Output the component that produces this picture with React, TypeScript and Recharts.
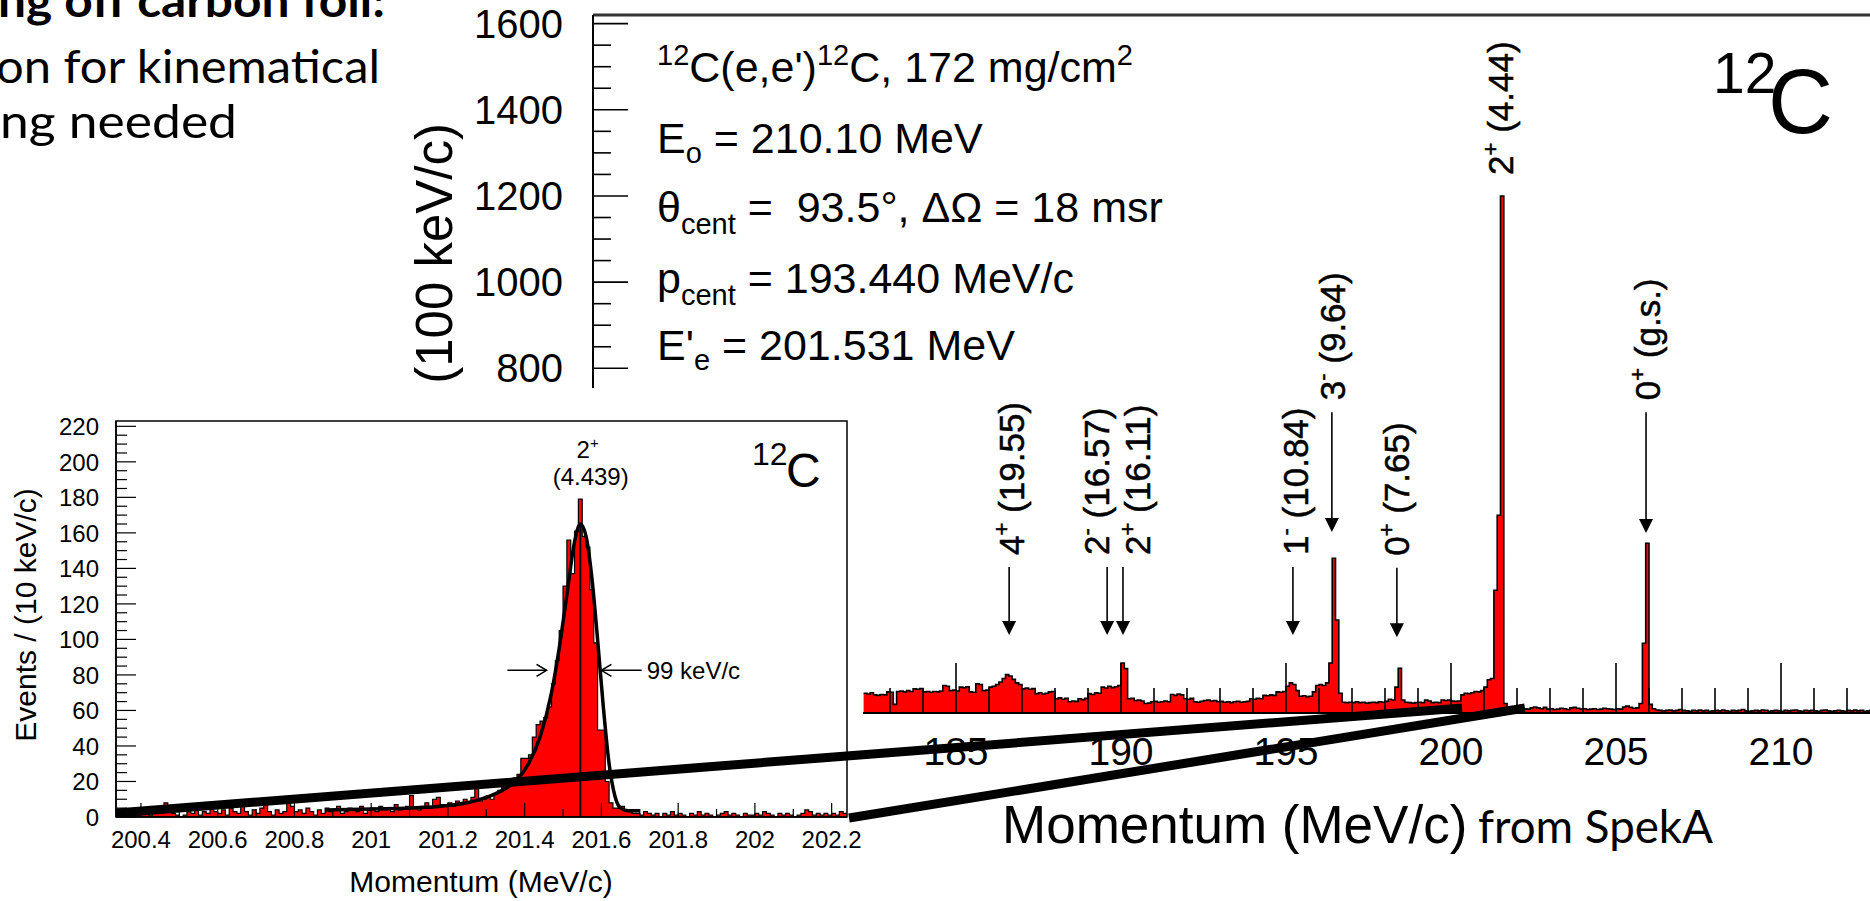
import React from "react";
import {
  ComposedChart,
  Area,
  Line,
  XAxis,
  YAxis,
  ReferenceLine,
  ReferenceArea,
  ReferenceDot,
} from "recharts";

const FONT = "'Liberation Sans', Arial, sans-serif";
const SLIDE_FONT = "Lato, 'Open Sans', sans-serif";
const RED = "#ff0000";

// 12C(e,e') momentum spectrum, 100 keV/c bins from 182.2 MeV/c
const mainStart = 182.2;
const mainBinWidth = 0.1;
const mainCounts = [
  46, 44, 47, 42, 41, 43, 42, 49, 48, 20,
  50, 51, 49, 52, 50, 56, 55, 57, 49, 50,
  48, 50, 49, 51, 64, 62, 52, 53, 51, 60,
  59, 61, 49, 48, 68, 66, 52, 53, 60, 62,
  66, 72, 80, 89, 86, 78, 70, 66, 56, 58,
  55, 57, 45, 47, 44, 46, 49, 50, 33, 35,
  32, 34, 26, 28, 27, 33, 31, 34, 45, 43,
  47, 46, 60, 58, 62, 59, 61, 64, 116, 103,
  33, 34, 29, 30, 28, 22, 23, 26, 27, 25,
  26, 28, 26, 43, 41, 44, 42, 33, 32, 34,
  26, 25, 27, 29, 30, 28, 29, 26, 27, 25,
  26, 24, 26, 27, 25, 26, 27, 33, 32, 34,
  33, 41, 40, 42, 41, 49, 48, 50, 62, 70,
  66, 52, 39, 40, 38, 39, 49, 64, 66, 64,
  70, 116, 359, 216, 46, 25, 24, 25, 24, 26,
  24, 25, 23, 24, 25, 24, 26, 25, 27, 32,
  30, 60, 104, 30, 25, 24, 23, 24, 25, 24,
  30, 28, 24, 25, 24, 30, 29, 30, 28, 27,
  28, 42, 46, 45, 47, 50, 49, 52, 60, 77,
  80, 285, 459, 1200, 22, 14, 10, 9, 11, 8,
  10, 9, 12, 14, 12, 10, 13, 9, 10, 8,
  9, 11, 10, 8, 12, 13, 11, 9, 10, 8,
  9, 10, 8, 9, 11, 10, 9, 8, 10, 9,
  14, 16, 13, 11, 12, 22, 162, 394, 20, 10,
  7, 6, 5, 6, 7, 5, 6, 8, 6, 5,
  4, 6, 5, 7, 5, 6, 4, 5, 6, 5,
  7, 5, 4, 6, 5, 6, 8, 5, 4, 5,
  6, 5, 7, 6, 4, 5, 6, 5, 4, 6,
  5, 6, 7, 5, 4, 6, 5, 6, 5, 4,
  6, 7, 5, 4, 5, 6, 5, 4, 6, 5,
  7, 5, 6, 4, 5, 6,
];

// zoom on the 2+ (4.439) line, 10 keV/c bins from 200.34 MeV/c
const insetStart = 200.34;
const insetBinWidth = 0.01;
const insetCounts = [
  3, 2, 4, 2, 3, 1, 2, 3, 1, 4, 2, 3, 8, 5, 2, 1,
  0, 1, 3, 2, 4, 1, 3, 2, 5, 3,
  2, 4, 1, 5, 3, 2, 6, 3, 1, 4,
  2, 5, 7, 3, 1, 4, 2, 3, 9, 6,
  3, 4, 2, 5, 3, 1, 4, 2, 5, 3,
  4, 6, 2, 3, 5, 4, 3, 6, 2, 4,
  5, 3, 6, 4, 5, 3, 7, 4, 5, 6,
  12, 5, 4, 6, 8, 5, 10, 11, 7, 6,
  8, 6, 9, 7, 10, 8, 11, 16, 9, 10,
  12, 10, 13, 15, 17, 18, 19, 22, 24, 33,
  33, 35, 45, 52, 54, 56, 62, 75, 88, 105,
  130, 156, 137, 161, 179, 158, 152, 128, 98, 49,
  49, 20, 8, 5, 5, 6, 4, 3, 2, 2,
  1, 3, 2, 1, 2, 0, 2, 1, 3, 1,
  2, 1, 0, 2, 1, 3, 1, 2, 1, 0,
  1, 2, 3, 1, 2, 1, 0, 2, 1, 1,
  2, 1, 3, 2, 1, 0, 2, 1, 2, 1,
  0, 1, 2, 4, 3, 1, 2, 1, 2, 1,
  2, 1, 3, 2,
];

// line-shape fit through the 2+ peak
const fitMomentum = [
  200.88, 201.0, 201.1, 201.2, 201.25, 201.3, 201.35, 201.38, 201.41, 201.44,
  201.47, 201.49, 201.51, 201.53, 201.545, 201.56, 201.575, 201.59, 201.605,
  201.62, 201.635, 201.65, 201.67, 201.7,
];
const fitCounts = [
  4, 4.5, 5, 6.5, 8, 11, 16, 21, 30, 45,
  70, 95, 125, 155, 165, 158, 135, 100, 62,
  30, 12, 5, 3.5, 3.5,
];

// excited states of 12C: label, parity, excitation energy, momentum and arrow span in counts
const levels = [
  { p: 186.61, j: "4", par: "+", ex: " (19.55)", top: 339, tip: 181, dx: 3, arrow: true },
  { p: 189.58, j: "2", par: "-", ex: " (16.57)", top: 339, tip: 181, dx: -10, arrow: true },
  { p: 190.06, j: "2", par: "+", ex: " (16.11)", top: 339, tip: 181, dx: 15, arrow: true },
  { p: 195.21, j: "1", par: "-", ex: " (10.84)", top: 339, tip: 181, dx: 3, arrow: true },
  { p: 196.39, j: "3", par: "-", ex: " (9.64)", top: 698, tip: 420, dx: 1, arrow: true },
  { p: 198.36, j: "0", par: "+", ex: " (7.65)", top: 337, tip: 176, dx: 0, arrow: true },
  { p: 201.5, j: "2", par: "+", ex: " (4.44)", top: 1221, tip: 1221, dx: 0, arrow: false },
  { p: 205.91, j: "0", par: "+", ex: " (g.s.)", top: 698, tip: 418, dx: 2, arrow: true },
];

const peakCentre = 201.545;
const peakFitMax = 165;
const fwhmCounts = 82.6;
const fwhmLeftArrow = [201.355, 201.457];
const fwhmRightArrow = [201.705, 201.6];

// layout
const MAIN = { w: 1913, h: 901, top: 15, axisW: 593, axisH: 188, x: [174, 214], y: [0, 1620] };
const MAIN_PLOT_W = MAIN.w - MAIN.axisW;
const MAIN_BOTTOM = MAIN.h - MAIN.axisH;
const INSET = { top: 388, w: 863, h: 513, axisW: 116, axisH: 84, mTop: 33, mRight: 16, x: [200.335, 202.24], y: [0, 223] };
const INSET_BOTTOM = INSET.top + INSET.h - INSET.axisH;
const INSET_RIGHT = INSET.w - INSET.mRight;

const mainX = (p: number) => MAIN.axisW + ((p - MAIN.x[0]) / (MAIN.x[1] - MAIN.x[0])) * MAIN_PLOT_W;

function toSteps(start: number, width: number, counts: number[]) {
  const pts = counts.map((c, i) => ({ p: +(start + i * width).toFixed(3), c }));
  pts.push({ p: +(start + counts.length * width).toFixed(3), c: counts[counts.length - 1] });
  return pts;
}

const mainSteps = toSteps(mainStart, mainBinWidth, mainCounts);
const insetSteps = toSteps(insetStart, insetBinWidth, insetCounts);
const fitData = fitMomentum.map((p, i) => ({ p, v: fitCounts[i] }));

const mainXTicks = Array.from({ length: 39 }, (_, i) => 175 + i);
const mainYTicks = Array.from({ length: 33 }, (_, i) => i * 50);
const insetXTicks = Array.from({ length: 19 }, (_, i) => +(200.4 + i * 0.1).toFixed(1));
const insetYTicks = Array.from({ length: 45 }, (_, i) => i * 5);

function MainXTick({ x, y, payload }: any) {
  const v = payload.value;
  const major = v % 5 === 0;
  return (
    <g>
      <line x1={x} x2={x} y1={y} y2={y - (major ? 50 : 25)} stroke="#000" strokeWidth={1.6} />
      {major && (
        <text x={x} y={y + 52} textAnchor="middle" fontSize={39} fontFamily={FONT} fill="#000">
          {v}
        </text>
      )}
    </g>
  );
}

function MainYTick({ x, y, payload }: any) {
  const v = payload.value;
  const major = v % 200 === 0;
  return (
    <g>
      <line x1={x} x2={x + (major ? 35 : 18)} y1={y} y2={y} stroke="#000" strokeWidth={1.6} />
      {major && (
        <text x={x - 30} y={y + 14} textAnchor="end" fontSize={40} fontFamily={FONT} fill="#000">
          {v}
        </text>
      )}
    </g>
  );
}

function InsetXTick({ x, y, payload }: any) {
  const v = payload.value;
  const major = Math.round(v * 10) % 2 === 0;
  return (
    <g>
      <line x1={x} x2={x} y1={y} y2={y - (major ? 14 : 8)} stroke="#000" strokeWidth={1.2} />
      {major && (
        <text x={x} y={y + 31} textAnchor="middle" fontSize={24} fontFamily={FONT} fill="#000">
          {String(+v.toFixed(1))}
        </text>
      )}
    </g>
  );
}

function InsetYTick({ x, y, payload }: any) {
  const v = payload.value;
  const major = v % 20 === 0;
  return (
    <g>
      <line x1={x} x2={x + (major ? 20 : 11)} y1={y} y2={y} stroke="#000" strokeWidth={1.2} />
      {major && (
        <text x={x - 17} y={y + 9} textAnchor="end" fontSize={24} fontFamily={FONT} fill="#000">
          {v}
        </text>
      )}
    </g>
  );
}

function levelShape(lv: (typeof levels)[number]) {
  return (props: any) => {
    const { x1, y1, y2 } = props;
    const bx = x1 + lv.dx + 12;
    return (
      <g>
        {lv.arrow && (
          <>
            <line x1={x1} x2={x1} y1={y1} y2={y2 - 12} stroke="#000" strokeWidth={1.6} />
            <polygon points={`${x1 - 7},${y2 - 14} ${x1 + 7},${y2 - 14} ${x1},${y2}`} fill="#000" />
          </>
        )}
        <text
          transform={`translate(${bx},${y1 - 12}) rotate(-90)`}
          fontSize={35}
          fontFamily={FONT}
          fill="#000"
          stroke="#000"
          strokeWidth={0.5}
        >
          {lv.j}
          <tspan fontSize={22} dy={-15}>{lv.par}</tspan>
          <tspan dy={15}>{lv.ex}</tspan>
        </text>
      </g>
    );
  };
}

function fwhmShape(withText: boolean) {
  return (props: any) => {
    const { x1, y1, x2, y2 } = props;
    const dir = x2 > x1 ? 1 : -1;
    return (
      <g>
        <line x1={x1} x2={x2} y1={y1} y2={y2} stroke="#000" strokeWidth={1.6} />
        <polyline
          points={`${x2 - dir * 10},${y2 - 6} ${x2},${y2} ${x2 - dir * 10},${y2 + 6}`}
          fill="none"
          stroke="#000"
          strokeWidth={1.6}
        />
        {withText && (
          <text x={x1 + 5} y={y1 + 9} fontSize={24} fontFamily={FONT} fill="#000">
            99 keV/c
          </text>
        )}
      </g>
    );
  };
}

function peakLabel(props: any) {
  const { cx, cy } = props;
  return (
    <g fontFamily={FONT} fill="#000" textAnchor="middle">
      <text x={cx - 3} y={cy - 41} fontSize={24}>
        2<tspan fontSize={15} dy={-10}>+</tspan>
      </text>
      <text x={cx} y={cy - 14} fontSize={24}>(4.439)</text>
    </g>
  );
}

function MainSpectrum() {
  return (
    <div style={{ position: "absolute", left: 0, top: 0 }}>
      <ComposedChart
        width={MAIN.w}
        height={MAIN.h}
        data={mainSteps}
        margin={{ top: MAIN.top, right: 0, bottom: 0, left: 0 }}
      >
        <Area
          dataKey="c"
          type="stepAfter"
          stroke="#000"
          strokeWidth={1.6}
          fill={RED}
          fillOpacity={1}
          isAnimationActive={false}
        />
        <XAxis
          dataKey="p"
          type="number"
          domain={MAIN.x}
          allowDataOverflow
          ticks={mainXTicks}
          interval={0}
          height={MAIN.axisH}
          tick={(p: any) => <MainXTick {...p} />}
          tickLine={false}
          tickSize={0}
          tickMargin={0}
          axisLine={{ stroke: "#000", strokeWidth: 2 }}
        />
        <YAxis
          type="number"
          domain={MAIN.y}
          allowDataOverflow
          ticks={mainYTicks}
          interval={0}
          width={MAIN.axisW}
          tick={(p: any) => <MainYTick {...p} />}
          tickLine={false}
          tickSize={0}
          tickMargin={0}
          axisLine={{ stroke: "#000", strokeWidth: 2 }}
        />
        <ReferenceLine y={MAIN.y[1]} stroke="#333" strokeWidth={3} />
        {levels.map((lv) => (
          <ReferenceLine
            key={lv.ex}
            segment={[
              { x: lv.p, y: lv.top },
              { x: lv.p, y: lv.tip },
            ]}
            shape={levelShape(lv)}
          />
        ))}
      </ComposedChart>
    </div>
  );
}

function InsetSpectrum() {
  return (
    <div
      style={{
        position: "absolute",
        left: 0,
        top: INSET.top,
        width: INSET.w,
        height: INSET.h,
        background: "#fff",
      }}
    >
      <ComposedChart
        width={INSET.w}
        height={INSET.h}
        margin={{ top: INSET.mTop, right: INSET.mRight, bottom: 0, left: 0 }}
      >
        <Area
          data={insetSteps}
          dataKey="c"
          type="stepAfter"
          stroke="#000"
          strokeWidth={1.2}
          fill={RED}
          fillOpacity={1}
          isAnimationActive={false}
        />
        <Line
          data={fitData}
          dataKey="v"
          type="monotone"
          stroke="#000"
          strokeWidth={3.5}
          dot={false}
          isAnimationActive={false}
        />
        <XAxis
          dataKey="p"
          type="number"
          domain={INSET.x}
          allowDataOverflow
          ticks={insetXTicks}
          interval={0}
          height={INSET.axisH}
          tick={(p: any) => <InsetXTick {...p} />}
          tickLine={false}
          tickSize={0}
          tickMargin={0}
          axisLine={{ stroke: "#000", strokeWidth: 1.5 }}
        />
        <YAxis
          type="number"
          domain={INSET.y}
          allowDataOverflow
          ticks={insetYTicks}
          interval={0}
          width={INSET.axisW}
          tick={(p: any) => <InsetYTick {...p} />}
          tickLine={false}
          tickSize={0}
          tickMargin={0}
          axisLine={{ stroke: "#000", strokeWidth: 1.5 }}
        />
        <ReferenceArea
          x1={INSET.x[0]}
          x2={INSET.x[1]}
          y1={INSET.y[0]}
          y2={INSET.y[1]}
          fill="none"
          stroke="#000"
          strokeWidth={1.5}
        />
        <ReferenceLine
          segment={[
            { x: peakCentre, y: 0 },
            { x: peakCentre, y: peakFitMax },
          ]}
          stroke="#000"
          strokeWidth={2}
        />
        <ReferenceLine
          segment={[
            { x: fwhmLeftArrow[0], y: fwhmCounts },
            { x: fwhmLeftArrow[1], y: fwhmCounts },
          ]}
          shape={fwhmShape(false)}
        />
        <ReferenceLine
          segment={[
            { x: fwhmRightArrow[0], y: fwhmCounts },
            { x: fwhmRightArrow[1], y: fwhmCounts },
          ]}
          shape={fwhmShape(true)}
        />
        <ReferenceDot x={201.572} y={179} r={0} shape={peakLabel} />
      </ComposedChart>
    </div>
  );
}

export default function App() {
  const aEnd = mainX(INSET.x[0]);
  const bEnd = mainX(INSET.x[1]);
  return (
    <div
      style={{
        position: "absolute",
        left: 0,
        top: 0,
        width: 1870,
        height: 901,
        overflow: "hidden",
        background: "#fff",
      }}
    >
      <MainSpectrum />

      <svg width={1870} height={901} style={{ position: "absolute", left: 0, top: 0 }}>
        <g fontFamily={FONT} fill="#000" fontSize={43}>
          <text x={657} y={82}>
            <tspan fontSize={29} dy={-17}>12</tspan>
            <tspan dy={17}>C(e,e')</tspan>
            <tspan fontSize={29} dy={-17}>12</tspan>
            <tspan dy={17}>C, 172 mg/cm</tspan>
            <tspan fontSize={29} dy={-17}>2</tspan>
          </text>
          <text x={657} y={153}>
            E<tspan fontSize={29} dy={10}>o</tspan>
            <tspan dy={-10}>{" = 210.10 MeV"}</tspan>
          </text>
          <text x={657} y={222}>
            θ<tspan fontSize={29} dy={12}>cent</tspan>
            <tspan dy={-12}>{" =\u00a0 93.5°, ΔΩ = 18 msr"}</tspan>
          </text>
          <text x={657} y={293}>
            p<tspan fontSize={29} dy={12}>cent</tspan>
            <tspan dy={-12}>{" = 193.440 MeV/c"}</tspan>
          </text>
          <text x={657} y={360}>
            E'<tspan fontSize={29} dy={10}>e</tspan>
            <tspan dy={-10}>{" = 201.531 MeV"}</tspan>
          </text>
          <text x={1713} y={93} fontSize={57}>12</text>
          <text x={1768} y={133} fontSize={90}>C</text>
          <text transform="translate(452,123) rotate(-90)" textAnchor="end" fontSize={51}>
            (100 keV/c)
          </text>
          <text x={1002} y={843} fontSize={53}>Momentum (MeV/c)</text>
        </g>
        <text
          x={1478}
          y={843}
          fontFamily={SLIDE_FONT}
          fontSize={46}
          textLength={235}
          lengthAdjust="spacingAndGlyphs"
          fill="#000"
        >
          from SpekA
        </text>
      </svg>

      <InsetSpectrum />

      <svg width={1870} height={901} style={{ position: "absolute", left: 0, top: 0 }}>
        <g fontFamily={FONT} fill="#000">
          <text x={752} y={465} fontSize={32}>12</text>
          <text x={786} y={487} fontSize={48}>C</text>
          <text transform="translate(36,615) rotate(-90)" textAnchor="middle" fontSize={30}>
            Events / (10 keV/c)
          </text>
          <text x={481} y={892} textAnchor="middle" fontSize={30}>Momentum (MeV/c)</text>
        </g>
        {/* zoom connectors from the inset to the matching momentum range */}
        <line x1={116} y1={INSET_BOTTOM - 4} x2={aEnd} y2={MAIN_BOTTOM - 5} stroke="#000" strokeWidth={9} />
        <line x1={INSET_RIGHT + 2} y1={INSET_BOTTOM + 1} x2={bEnd} y2={MAIN_BOTTOM - 5} stroke="#000" strokeWidth={9} />
        <g fontFamily={SLIDE_FONT} fill="#000" fontSize={46}>
          <text x={-2} y={17} fontWeight="bold" textLength={387} lengthAdjust="spacingAndGlyphs">
            ng off carbon foil:
          </text>
          <text x={-4} y={83} textLength={384} lengthAdjust="spacingAndGlyphs">
            on for kinematical
          </text>
          <text x={0} y={138} textLength={237} lengthAdjust="spacingAndGlyphs">
            ng needed
          </text>
        </g>
      </svg>
    </div>
  );
}
